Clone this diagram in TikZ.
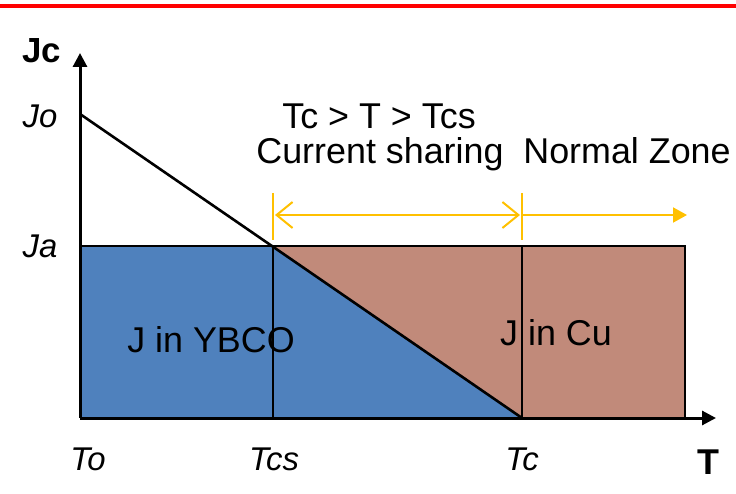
\documentclass[tikz,border=0pt]{standalone}
\usepackage{fontspec}
\setmainfont{Liberation Sans}
\usetikzlibrary{arrows.meta}
\definecolor{ybco}{RGB}{79,129,189}
\definecolor{cu}{RGB}{193,138,122}
\definecolor{zone}{RGB}{255,192,0}
\definecolor{topred}{RGB}{255,0,0}
\begin{document}
\begin{tikzpicture}[x=1bp,y=-1bp,
  lbl/.style={inner sep=0pt,anchor=base},
  big/.style={lbl,font=\fontsize{36}{40}\selectfont},
  axlbl/.style={lbl,font=\fontsize{33}{36}\selectfont\itshape},
  axname/.style={lbl,font=\fontsize{36}{40}\selectfont\bfseries},
  axis/.style={line width=3bp,-{Triangle[length=14bp,width=14bp]}},
  edge/.style={line width=2bp},
  zoneline/.style={zone,line width=2bp},
  zonetick/.style={zone,line width=2.2bp}]
\useasboundingbox (0,0) rectangle (736,494);
% top red rule
\coordinate (rl) at (0,6);
\coordinate (rr) at (736,6);
\draw[topred,line width=4bp] (rl) -- (rr);
% key points
\coordinate (O) at (80,418);
\coordinate (Jo) at (80,114);
\coordinate (JaL) at (80,246);
\coordinate (Cs) at (272,246);
\coordinate (CsB) at (273,418);
\coordinate (CsT) at (273,246);
\coordinate (Tc) at (522,418);
\coordinate (TcT) at (522,246);
\coordinate (RT) at (685,246);
\coordinate (RB) at (685,418);
\coordinate (yend) at (80,53);
\coordinate (xend) at (716,418);
% fills
\fill[ybco] (JaL) -- (Cs) -- (Tc) -- (O) -- cycle;
\fill[cu] (Cs) -- (RT) -- (RB) -- (Tc) -- cycle;
% outline and dividers
\draw[edge] (JaL) -- (RT) -- (RB);
\draw[edge] (CsT) -- (CsB);
\draw[edge] (TcT) -- (Tc);
\draw[line width=2.6bp] (Jo) -- (Tc);
% axes
\draw[axis] (O) -- (yend);
\draw[axis] (O) -- (xend);
% yellow zone markers
\coordinate (t1a) at (273,193);
\coordinate (t1b) at (273,240);
\coordinate (t2a) at (522,193);
\coordinate (t2b) at (522,240);
\draw[zonetick] (t1a) -- (t1b);
\draw[zonetick] (t2a) -- (t2b);
\coordinate (da) at (275,215);
\coordinate (db) at (520,215);
\draw[zoneline,{Straight Barb[length=16bp,width=26bp]}-{Straight Barb[length=16bp,width=26bp]}] (da) -- (db);
\coordinate (na) at (522,215);
\coordinate (nb) at (687,215);
\draw[zoneline,-{Triangle[length=14bp,width=15bp]}] (na) -- (nb);
% texts
\node[big] (cond) at (379,129) {Tc > T > Tcs};
\node[big] (cs) at (380,164) {Current sharing};
\node[big] (nz) at (627,164) {Normal Zone};
\node[big] (ybco) at (211,352) {J in YBCO};
\node[big] (cu) at (556,345) {J in Cu};
\node[axname,font=\fontsize{35}{38}\selectfont\bfseries] (jc) at (42,63) {Jc};
\node[axlbl] (jo) at (40,128) {Jo};
\node[axlbl] (ja) at (40,258) {Ja};
\node[axlbl] (to) at (88,470) {To};
\node[axlbl] (tcs) at (274,470) {Tcs};
\node[axlbl] (tc) at (522,470) {Tc};
\node[axname] (tt) at (708,474) {T};
\end{tikzpicture}
\end{document}
